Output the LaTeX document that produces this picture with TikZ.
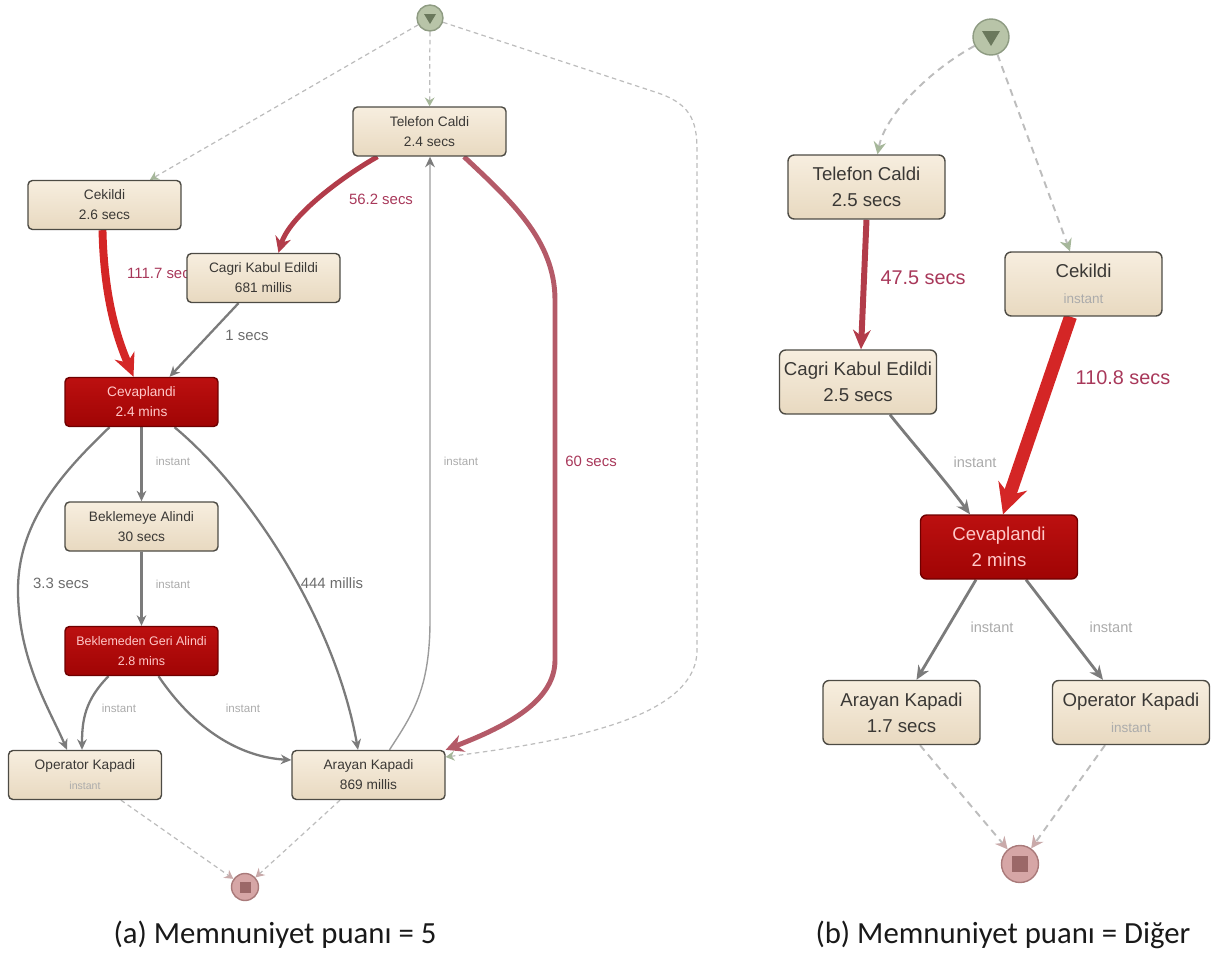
\documentclass[tikz,border=0pt]{standalone}
\usepackage{fontspec}
\setmainfont{Liberation Sans}
\newfontfamily\capfont{Carlito}
\usetikzlibrary{arrows.meta,calc}
\pgfdeclarelayer{bg}
\pgfsetlayers{bg,main}

\definecolor{boxtop}{HTML}{F7EEDF}
\definecolor{boxbot}{HTML}{E8D9C0}
\definecolor{boxline}{HTML}{4D4B44}
\definecolor{hottop}{HTML}{BC1010}
\definecolor{hotbot}{HTML}{A00404}
\definecolor{hotline}{HTML}{6E0000}
\definecolor{hottext}{HTML}{FFC8C8}
\definecolor{nodetext}{HTML}{3A3835}
\definecolor{flowgray}{HTML}{7B7B7B}
\definecolor{lightflow}{HTML}{9C9C9C}
\definecolor{instgray}{HTML}{ABABAB}
\definecolor{labgray}{HTML}{6C6C6C}
\definecolor{labred}{HTML}{A8385A}
\definecolor{hotflow}{HTML}{D42626}
\definecolor{midflow}{HTML}{B23C4A}
\definecolor{paleflow}{HTML}{B45A68}
\definecolor{dashgray}{HTML}{BDBDBD}
\definecolor{startfill}{HTML}{B8C4A8}
\definecolor{startline}{HTML}{8E9B82}
\definecolor{startmark}{HTML}{6A785C}
\definecolor{startarrow}{HTML}{A6B79A}
\definecolor{endfill}{HTML}{D6A6A6}
\definecolor{endline}{HTML}{A97A7A}
\definecolor{endmark}{HTML}{9B6868}
\definecolor{endarrow}{HTML}{C9AAAA}

\tikzset{
  actbox/.style={draw=boxline, line width=0.8pt, rounded corners=2.5pt,
    top color=boxtop, bottom color=boxbot, text=nodetext,
    minimum width=3.06cm, minimum height=0.98cm, align=center, inner sep=0pt,
    font=\fontsize{7.8}{11.3}\selectfont},
  hotbox/.style={actbox, draw=hotline, top color=hottop, bottom color=hotbot, text=hottext},
  bigact/.style={actbox, rounded corners=3.5pt, minimum width=3.14cm, minimum height=1.28cm,
    font=\fontsize{10.6}{14.7}\selectfont},
  bighot/.style={bigact, draw=hotline, top color=hottop, bottom color=hotbot, text=hottext},
  startdot/.style={circle, draw=startline, fill=startfill, line width=0.8pt, inner sep=0pt},
  enddot/.style={circle, draw=endline, fill=endfill, line width=0.8pt, inner sep=0pt},
  flow/.style={draw=flowgray, line width=1.3pt, -{Stealth[length=6pt,width=5.5pt]}},
  bigflow/.style={draw=flowgray, line width=1.6pt, -{Stealth[length=8pt,width=7pt]}},
  backflow/.style={draw=lightflow, line width=0.8pt, -{Stealth[length=6pt,width=5.5pt,color=flowgray]}},
  startdash/.style={draw=dashgray, line width=0.7pt, dash pattern=on 2.6pt off 2pt,
    -{Stealth[length=5pt,width=5.5pt,color=startarrow]}},
  enddash/.style={startdash, -{Stealth[length=5pt,width=5.5pt,color=endarrow]}},
  bigstartdash/.style={draw=dashgray, line width=1.1pt, dash pattern=on 4pt off 3pt,
    -{Stealth[length=7pt,width=7pt,color=startarrow]}},
  bigenddash/.style={bigstartdash, -{Stealth[length=7pt,width=7pt,color=endarrow]}},
  instlab/.style={text=instgray, font=\fontsize{6.6}{8}\selectfont},
  graylab/.style={text=labgray, font=\fontsize{8.5}{10}\selectfont},
  redlab/.style={text=labred, font=\fontsize{8.5}{10}\selectfont},
  biginst/.style={text=instgray, font=\fontsize{8.3}{10}\selectfont},
  bigredlab/.style={text=labred, font=\fontsize{11.3}{13}\selectfont},
  caption/.style={text=black!90, font=\capfont\fontsize{17.5}{20}\selectfont}
}

\begin{document}
\begin{tikzpicture}[x=0.02cm,y=-0.02cm]
  \useasboundingbox (0,0) rectangle (1211,957);

  % (a) Memnuniyet puani = 5
  \node[startdot, minimum size=0.52cm] (sa) at (430,18) {};
  \fill[startmark] ($(sa)+(-6,-4)$) -- ($(sa)+(6,-4)$) -- ($(sa)+(0,6)$) -- cycle;
  \node[actbox] (tca) at (429.5,131.5) {Telefon Caldi\\2.4 secs};
  \node[actbox] (cka) at (104.5,205) {Cekildi\\2.6 secs};
  \node[actbox] (cga) at (263.5,278) {Cagri Kabul Edildi\\681 millis};
  \node[hotbox] (cva) at (141.5,402) {Cevaplandi\\2.4 mins};
  \node[actbox] (bka) at (141.5,526.5) {Beklemeye Alindi\\30 secs};
  \node[hotbox, font=\fontsize{7.1}{11}\selectfont] (bga) at (141.5,651) {Beklemeden Geri Alindi\\2.8 mins};
  \node[actbox] (opa) at (85,775) {Operator Kapadi\\{\color{instgray}\fontsize{6}{8}\selectfont instant}};
  \node[actbox] (ara) at (368.5,775) {Arayan Kapadi\\869 millis};
  \node[enddot, minimum size=0.54cm] (ea) at (245,887) {};
  \fill[endmark] ($(ea)+(-5.5,-5.5)$) rectangle ($(ea)+(5.5,5.5)$);
  \node[caption] (capa) at (275,935) {(a) Memnuniyet puanı = 5};

  % (b) Memnuniyet puani = Diger
  \node[startdot, minimum size=0.72cm] (sb) at (991,37) {};
  \fill[startmark] ($(sb)+(-9,-6)$) -- ($(sb)+(9,-6)$) -- ($(sb)+(0,9)$) -- cycle;
  \node[bigact] (tcb) at (866.5,187) {Telefon Caldi\\2.5 secs};
  \node[bigact] (ckb) at (1083.5,284) {Cekildi\\{\color{instgray}\fontsize{7.7}{9}\selectfont instant}};
  \node[bigact] (cgb) at (858,382) {Cagri Kabul Edildi\\2.5 secs};
  \node[bighot] (cvb) at (999,547) {Cevaplandi\\2 mins};
  \node[bigact] (arb) at (901.5,712.5) {Arayan Kapadi\\1.7 secs};
  \node[bigact] (opb) at (1131,712.5) {Operator Kapadi\\{\color{instgray}\fontsize{7.7}{9}\selectfont instant}};
  \node[enddot, minimum size=0.74cm] (eb) at (1020,864) {};
  \fill[endmark] ($(eb)+(-8,-8)$) rectangle ($(eb)+(8,8)$);
  \node[caption] (capb) at (1003,935) {(b) Memnuniyet puanı = Diğer};

  \begin{pgfonlayer}{bg}
    % flows of (a)
    \draw[startdash] (sa) -- ($(cka.north)+(45.5,0)$);
    \draw[startdash] (sa) -- (tca);
    \draw[startdash] (sa) -- (655,92) .. controls (690,103) and (697,120) .. (697,150)
      -- (697,650) .. controls (697,720) and (560,742) .. ($(ara.east)+(0,-18)$);
    \draw[draw=hotflow, line width=4.5pt, -{Stealth[length=13pt,width=12pt]}]
      ($(cka.south)+(-2,0)$) .. controls (104,300) and (118,340) .. ($(cva.north)+(-8,0)$);
    \node[redlab, anchor=west] (l117) at (121,273) {111.7 secs};
    \draw[draw=midflow, line width=2.8pt, -{Stealth[length=9pt,width=9pt]}]
      ($(tca.south)+(-52,0)$) .. controls (345,175) and (290,215) .. ($(cga.north)+(15,0)$);
    \node[redlab] (l562) at (381,199) {56.2 secs};
    \draw[flow] ($(cga.south)+(-25,0)$) -- ($(cva.north)+(28,0)$);
    \node[graylab] (l1) at (247,335) {1 secs};
    \draw[backflow] ($(ara.north)+(21,0)$) .. controls (412,715) and (430,690) .. (430,620)
      -- ($(tca.south)+(0.5,0)$);
    \node[instlab] (lup) at (461,461) {instant};
    \draw[draw=paleflow, line width=2.8pt, -{Stealth[length=10pt,width=10pt]}]
      ($(tca.south)+(34.5,0)$) .. controls (510,200) and (555,240) .. (555,300)
      -- (555,660) .. controls (555,700) and (510,725) .. (ara.north east);
    \node[redlab] (l60) at (591,461) {60 secs};
    \draw[flow] (cva) -- (bka);
    \node[instlab] (lbk) at (173,461) {instant};
    \draw[flow] (bka) -- (bga);
    \node[instlab] (lbg) at (173,584) {instant};
    \draw[flow] ($(cva.south)+(-32,0)$) .. controls (65,470) and (18,520) .. (18,590)
      .. controls (18,660) and (50,710) .. ($(opa.north)+(-18,0)$);
    \node[graylab] (l33) at (61,583) {3.3 secs};
    \draw[flow] ($(cva.south)+(33,0)$) .. controls (250,490) and (335,620) .. ($(ara.north)+(-10.5,0)$);
    \node[graylab] (l444) at (332,583) {444 millis};
    \draw[flow] ($(bga.south)+(-33,0)$) .. controls (85,700) and (82,720) .. ($(opa.north)+(-3,0)$);
    \node[instlab] (lop) at (119,708) {instant};
    \draw[flow] ($(bga.south)+(17,0)$) .. controls (195,730) and (240,757) .. ($(ara.west)+(0,-15)$);
    \node[instlab] (lar) at (243,708) {instant};
    \draw[enddash] ($(opa.south)+(36,0)$) -- (ea);
    \draw[enddash] ($(ara.south)+(-28.5,0)$) -- (ea);

    % flows of (b)
    \draw[bigstartdash] (sb) .. controls (930,70) and (885,115) .. ($(tcb.north)+(11,0)$);
    \draw[bigstartdash] (sb) -- ($(ckb.north)+(-13.5,0)$);
    \draw[draw=midflow, line width=3.4pt, -{Stealth[length=11pt,width=10pt]}]
      (tcb.south) -- ($(cgb.north)+(3,0)$);
    \node[bigredlab] (l475) at (923,278) {47.5 secs};
    \draw[draw=hotflow, line width=7.4pt, -{Stealth[length=17pt,width=17pt]}]
      ($(ckb.south)+(-13,0)$) -- ($(cvb.north)+(4,0)$);
    \node[bigredlab] (l1108) at (1123,378) {110.8 secs};
    \draw[bigflow] ($(cgb.south)+(32,0)$) .. controls (910,440) and (945,480) .. ($(cvb.north)+(-29,0)$);
    \node[biginst] (lcg) at (975,462) {instant};
    \draw[bigflow] ($(cvb.south)+(-23,0)$) -- ($(arb.north)+(15,0)$);
    \node[biginst] (lab) at (992,627) {instant};
    \draw[bigflow] ($(cvb.south)+(27,0)$) -- ($(opb.north)+(-28,0)$);
    \node[biginst] (lob) at (1111,627) {instant};
    \draw[bigenddash] ($(arb.south)+(18.5,0)$) -- (eb);
    \draw[bigenddash] ($(opb.south)+(-26,0)$) -- (eb);
  \end{pgfonlayer}
\end{tikzpicture}
\end{document}
